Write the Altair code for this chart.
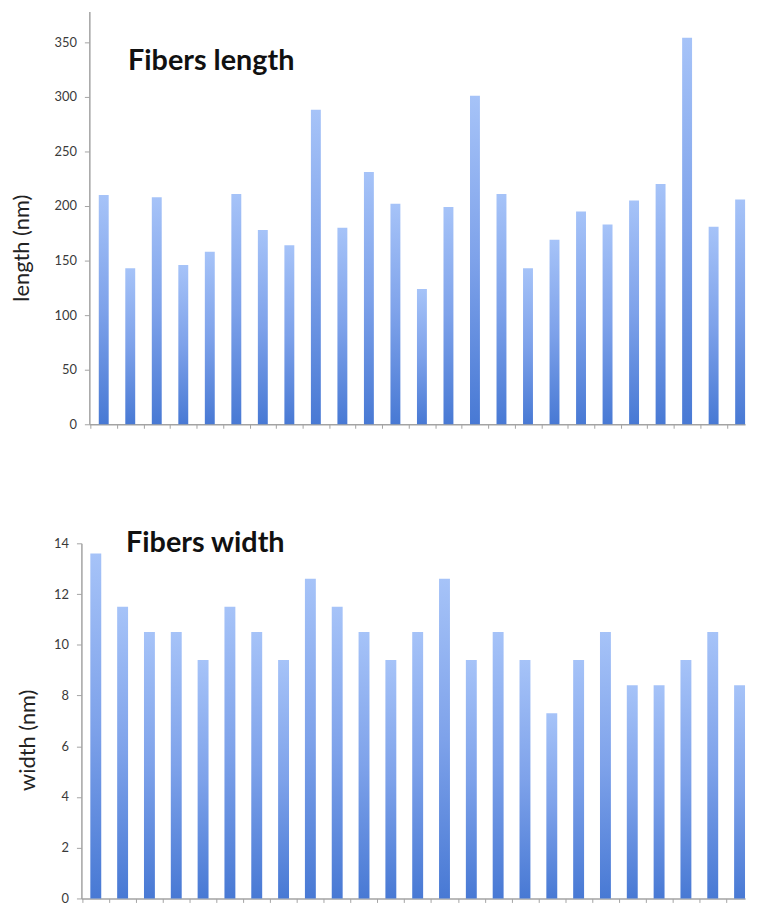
import altair as alt
import pandas as pd

# ---- data ----
fiber_index = list(range(1, 26))
length_nm = [210, 143, 208, 146, 158, 211, 178, 164, 288, 180, 231, 202, 124,
             199, 301, 211, 143, 169, 195, 183, 205, 220, 354, 181, 206]
width_nm = [13.6, 11.5, 10.5, 10.5, 9.4, 11.5, 10.5, 9.4, 12.6, 11.5, 10.5, 9.4,
            10.5, 12.6, 9.4, 10.5, 9.4, 7.3, 9.4, 10.5, 8.4, 8.4, 9.4, 10.5, 8.4]
length_ticks = [0, 50, 100, 150, 200, 250, 300, 350]
width_ticks = [0, 2, 4, 6, 8, 10, 12, 14]
title_top = "Fibers length"
title_bottom = "Fibers width"

df_len = pd.DataFrame({"i": [k - 1 for k in fiber_index], "length": length_nm})
df_wid = pd.DataFrame({"i": [k - 1 for k in fiber_index], "width": width_nm})
boundaries = [k - 0.5 for k in range(0, 25)]

FONT = "Lato"
AXIS_GREY = "#a3a3a3"

grad = alt.LinearGradient(
    gradient="linear",
    stops=[alt.GradientStop(color="#a6c3f8", offset=0),
           alt.GradientStop(color="#7ea2ea", offset=0.5),
           alt.GradientStop(color="#4879d4", offset=1)],
    x1=0, x2=0, y1=0, y2=1,
)

W = 661

# ---- top panel ----
x_top = alt.X(
    "i:Q",
    scale=alt.Scale(domain=[-0.5425, 24.186], nice=False, zero=False, padding=0),
    axis=alt.Axis(values=boundaries, labels=False, title=None, tickSize=4),
)
bars_top = alt.Chart(df_len).mark_bar(size=10, color=grad).encode(
    x=x_top,
    y=alt.Y(
        "length:Q",
        scale=alt.Scale(domain=[0, 378], nice=False),
        axis=alt.Axis(values=length_ticks, title="length (nm)", titleX=-68,
                      titleY=238, titleBaseline="middle", tickSize=5,
                      labelPadding=8),
    ),
)
text_top = alt.Chart(pd.DataFrame({"t": [title_top]})).mark_text(
    font=FONT, fontSize=29, fontWeight="bold", align="left",
    baseline="alphabetic", color="#111111",
).encode(text="t:N", x=alt.value(39), y=alt.value(59))
top = alt.layer(bars_top, text_top).properties(width=W, height=416)

# ---- bottom panel ----
x_bot = alt.X(
    "i:Q",
    scale=alt.Scale(domain=[-0.536, 24.205], range=[-8, W], nice=False,
                    zero=False, padding=0),
    axis=alt.Axis(values=boundaries, labels=False, title=None, tickSize=4),
)
bars_bot = alt.Chart(df_wid).mark_bar(size=11, color=grad).encode(
    x=x_bot,
    y=alt.Y(
        "width:Q",
        scale=alt.Scale(domain=[0, 14], nice=False),
        axis=alt.Axis(values=width_ticks, title="width (nm)", titleX=-54,
                      titleY=198, titleBaseline="middle", tickSize=5,
                      labelPadding=8, offset=8),
    ),
)
text_bot = alt.Chart(pd.DataFrame({"t": [title_bottom]})).mark_text(
    font=FONT, fontSize=29, fontWeight="bold", align="left",
    baseline="alphabetic", color="#111111",
).encode(text="t:N", x=alt.value(37), y=alt.value(9))
bottom = alt.layer(bars_bot, text_bot).properties(width=W, height=358)

chart = (
    alt.vconcat(top, bottom, spacing=99)
    .properties(padding={"left": 3, "top": 0, "right": 0, "bottom": 0},
                background="white")
    .configure_view(stroke=None)
    .configure_axis(
        grid=False,
        domainColor=AXIS_GREY,
        domainWidth=1.5,
        tickColor=AXIS_GREY,
        tickWidth=1,
        labelFont=FONT,
        labelFontSize=13,
        labelColor="#3a3a3a",
        titleFont=FONT,
        titleFontSize=22,
        titleFontWeight="normal",
        titleColor="#222222",
    )
)

chart.save("out.html", embed_options={"renderer": "svg", "actions": False})
